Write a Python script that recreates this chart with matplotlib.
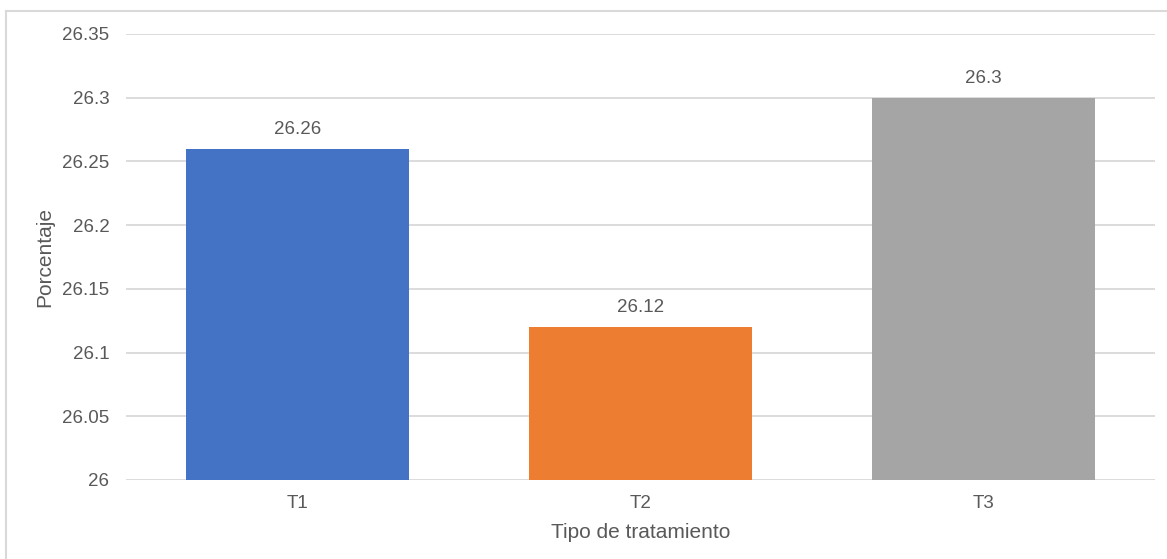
import matplotlib
matplotlib.use("Agg")
import matplotlib.pyplot as plt
from matplotlib.lines import Line2D

categories = ["T1", "T2", "T3"]
values = [26.26, 26.12, 26.3]
labels = ["26.26", "26.12", "26.3"]
colors = ["#4472C4", "#ED7D31", "#A5A5A5"]
yticks = [26, 26.05, 26.1, 26.15, 26.2, 26.25, 26.3, 26.35]
ytick_labels = ["26", "26.05", "26.1", "26.15", "26.2", "26.25", "26.3", "26.35"]

plt.rcParams['font.family'] = ['Liberation Sans', 'DejaVu Sans']
txt = "#595959"

W, H = 1167, 559
fig = plt.figure(figsize=(W / 100, H / 100), dpi=100)
fig.patch.set_facecolor("white")

# outer chart border (left and top visible)
fig.add_artist(Line2D([5.5 / W, 5.5 / W], [0, 1 - 10.5 / H], color="#d9d9d9", lw=1.5))
fig.add_artist(Line2D([5.5 / W, 1], [1 - 10.5 / H, 1 - 10.5 / H], color="#d9d9d9", lw=1.5))

ax = fig.add_axes([126 / W, 79 / H, (1155 - 126) / W, (480 - 34) / H])
x = list(range(len(categories)))
ax.bar(x, [v - 26 for v in values], bottom=26, width=0.65, color=colors, zorder=3)
ax.set_xlim(-0.5, len(categories) - 0.5)
ax.set_ylim(26, 26.35)
ax.set_yticks(yticks)
ax.set_yticklabels(ytick_labels)
ax.set_xticks(x)
ax.set_xticklabels(categories)
ax.tick_params(axis="both", length=0, labelsize=13.5, colors=txt)
ax.tick_params(axis="y", pad=12)
ax.tick_params(axis="x", pad=11)
for s in ax.spines.values():
    s.set_visible(False)
ax.grid(axis="y", color="#d9d9d9", lw=1.3, zorder=0)
ax.set_axisbelow(True)

for xi, v, lab in zip(x, values, labels):
    ax.annotate(lab, (xi, v), xytext=(0, 8), textcoords="offset points",
                ha="center", va="bottom", fontsize=13.5, color=txt)

ax.set_ylabel("Porcentaje", fontsize=15, color=txt)
ax.yaxis.set_label_coords((45 - 126) / (1155 - 126), 0.5)
ax.set_xlabel("Tipo de tratamiento", fontsize=15, color=txt)
ax.xaxis.set_label_coords(0.5, -(532 - 480) / (480 - 34))
ax.xaxis.label.set_va("center")
ax.yaxis.label.set_va("center")

fig.savefig("out.png", dpi=100, facecolor="white")
